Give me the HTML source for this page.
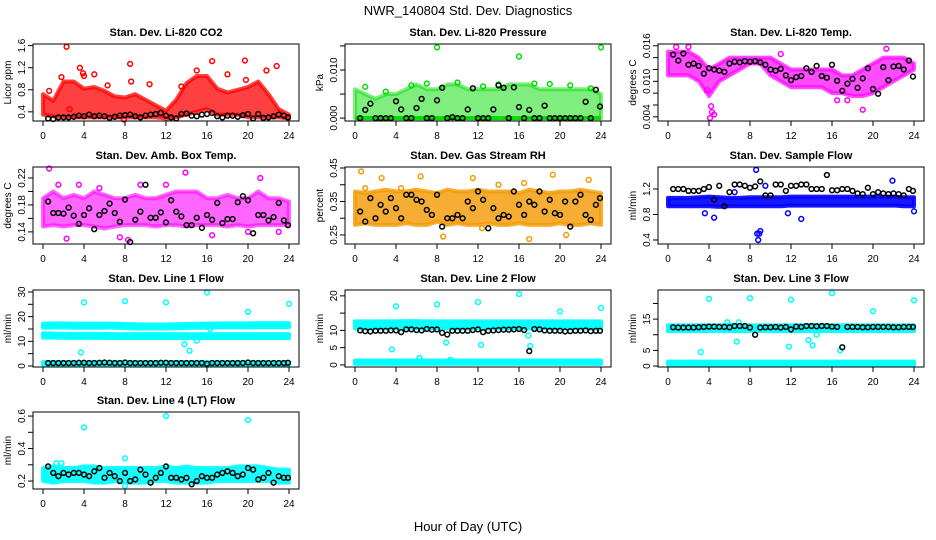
<!DOCTYPE html>
<html><head><meta charset="utf-8">
<style>
html,body{margin:0;padding:0;background:#fff;}
svg{display:block;font-family:"Liberation Sans",Arial,sans-serif;}
</style></head>
<body>
<svg id="chart" width="936" height="540" viewBox="0 0 936 540" xmlns="http://www.w3.org/2000/svg">
<text x="468" y="15" text-anchor="middle" font-size="13">NWR_140804  Std. Dev. Diagnostics</text>
<text x="468" y="531" text-anchor="middle" font-size="13">Hour of Day (UTC)</text>
</svg>
<script>
const bandHours=[0,1,2,3,4,5,6,7,8,9,10,11,12,13,14,15,16,17,18,19,20,21,22,23,24];
const blackTimes=[0.5,1,1.5,2,2.5,3,3.5,4,4.5,5,5.5,6,6.5,7,7.5,8,8.5,9,9.5,10,10.5,11,11.5,12,12.5,13,13.5,14,14.5,15,15.5,16,16.5,17,17.5,18,18.5,19,19.5,20,20.5,21,21.5,22,22.5,23,23.5,23.9];
const xTicks=[0,4,8,12,16,20,24];

// CO2
const co2Lo=[0.35,0.32,0.3,0.3,0.3,0.3,0.3,0.3,0.3,0.3,0.3,0.3,0.28,0.3,0.35,0.4,0.45,0.35,0.35,0.35,0.3,0.3,0.3,0.3,0.28];
const co2Hi=[0.72,0.6,0.95,0.95,0.82,0.85,0.78,0.68,0.66,0.72,0.62,0.52,0.42,0.62,0.92,1.05,1.05,0.82,0.75,0.8,0.85,0.95,0.72,0.45,0.35];
const co2OutX=[2.3,3.6,3.9,4,5,8.5,8.6,10.4,16.5,19.7,19.8,22.8,21.8,18,1.8,2.6,7.9,6.3,13.5,15,0.6];
const co2OutY=[1.58,1.2,1.1,1.05,1.08,1.27,0.95,0.9,1.32,1.33,0.98,1.23,1.15,1.08,1.03,0.45,0.26,0.88,0.86,1.15,0.78];
const co2Black=[0.28,0.27,0.3,0.3,0.3,0.31,0.33,0.32,0.35,0.32,0.33,0.32,0.29,0.31,0.33,0.34,0.35,0.32,0.3,0.33,0.35,0.36,0.38,0.33,0.3,0.28,0.36,0.37,0.33,0.32,0.35,0.36,0.38,0.32,0.3,0.33,0.33,0.31,0.34,0.36,0.28,0.36,0.29,0.3,0.32,0.35,0.33,0.3];
// Pressure
const prLo=[0,0,0,0,0,0,0,0,0,0,0,0,0,0,0,0,0,0,0,0,0,0,0,0,0];
const prHi=[0.006,0.005,0.004,0.005,0.005,0.006,0.007,0.006,0.006,0.007,0.007,0.006,0.006,0.006,0.006,0.007,0.007,0.007,0.006,0.006,0.006,0.006,0.006,0.006,0.005];
const prOutX=[8,16,24,1,3,5.5,7,10,12.5,14,17.5,19,21,23];
const prOutY=[0.0147,0.0128,0.0147,0.0065,0.0055,0.0068,0.0072,0.0074,0.0066,0.007,0.0072,0.0071,0.0068,0.0062];
const prBlack=[0,0.0017,0.003,0,0,0,0,0.0035,0.0018,0,0,0.0021,0.004,0,0,0.0037,0.0063,0,0.0002,0,0,0.0018,0.0062,0,0,0,0.0018,0.0068,0.0063,0,0.0064,0.0023,0,0.0017,0,0,0.0026,0,0,0,0,0,0,0,0.0034,0,0.0059,0.0024];
// Li-820 temp
const tLo=[0.011,0.011,0.011,0.010,0.0075,0.010,0.011,0.012,0.013,0.013,0.011,0.010,0.009,0.009,0.009,0.009,0.008,0.008,0.0075,0.0075,0.008,0.009,0.010,0.011,0.012];
const tHi=[0.015,0.015,0.015,0.014,0.012,0.013,0.014,0.014,0.014,0.014,0.014,0.013,0.012,0.012,0.012,0.012,0.012,0.011,0.011,0.012,0.013,0.014,0.014,0.014,0.013];
const tOutX=[4.2,4.3,4.5,4.1,19,16.5,0.8,2,21.3,11,3.8,17.5];
const tOutY=[0.0058,0.0048,0.0044,0.0038,0.0052,0.0068,0.0158,0.0158,0.0155,0.0146,0.0085,0.0068];
const tBlack=[0.0145,0.0135,0.0147,0.0128,0.013,0.0126,0.0113,0.0122,0.012,0.0118,0.0116,0.013,0.0133,0.0132,0.0134,0.0133,0.0134,0.0132,0.0128,0.012,0.0118,0.0121,0.011,0.0102,0.0107,0.0109,0.0122,0.0116,0.0126,0.0109,0.0106,0.0128,0.0101,0.0084,0.0096,0.0104,0.0089,0.0105,0.0122,0.0087,0.0079,0.0124,0.0102,0.0125,0.0126,0.012,0.0135,0.0108];
// Box temp
const bxLo=[0.148,0.15,0.148,0.15,0.15,0.148,0.145,0.148,0.15,0.15,0.15,0.148,0.15,0.15,0.148,0.15,0.15,0.15,0.148,0.15,0.148,0.15,0.15,0.15,0.15];
const bxHi=[0.19,0.2,0.19,0.195,0.19,0.2,0.195,0.19,0.19,0.195,0.19,0.19,0.195,0.2,0.2,0.2,0.19,0.19,0.195,0.19,0.19,0.2,0.19,0.19,0.185];
const bxOutX=[0.6,2.3,8.3,13.9,21.2,3.5,1.5,5.5,9.5,16.5,20,23,12,7.5];
const bxOutY=[0.234,0.13,0.128,0.228,0.22,0.21,0.21,0.205,0.21,0.135,0.14,0.14,0.21,0.132];
const bxBlack=[0.185,0.168,0.168,0.167,0.176,0.164,0.152,0.165,0.175,0.144,0.165,0.171,0.182,0.168,0.155,0.188,0.125,0.158,0.17,0.21,0.161,0.161,0.169,0.154,0.187,0.17,0.163,0.15,0.15,0.161,0.146,0.165,0.158,0.183,0.153,0.159,0.159,0.184,0.193,0.187,0.138,0.165,0.165,0.157,0.162,0.183,0.157,0.15];
// RH
const rhLo=[0.28,0.285,0.28,0.28,0.28,0.285,0.28,0.28,0.29,0.28,0.285,0.28,0.28,0.285,0.28,0.28,0.285,0.28,0.28,0.28,0.285,0.28,0.28,0.285,0.28];
const rhHi=[0.38,0.375,0.38,0.385,0.38,0.38,0.385,0.38,0.375,0.385,0.38,0.38,0.385,0.38,0.38,0.38,0.375,0.385,0.38,0.375,0.38,0.38,0.385,0.38,0.375];
const rhOutX=[0.6,2.6,6.4,8.6,11.5,12.4,17,19.3,20.6,22.8,1,4.5,14,16.5];
const rhOutY=[0.44,0.42,0.425,0.245,0.42,0.27,0.238,0.43,0.25,0.415,0.39,0.39,0.4,0.405];
const rhBlack=[0.32,0.29,0.36,0.3,0.34,0.32,0.36,0.33,0.3,0.37,0.37,0.355,0.35,0.325,0.31,0.37,0.275,0.3,0.3,0.31,0.3,0.35,0.33,0.38,0.355,0.27,0.33,0.3,0.31,0.305,0.38,0.34,0.31,0.35,0.34,0.38,0.32,0.355,0.315,0.31,0.35,0.275,0.35,0.37,0.31,0.295,0.34,0.36];
// Sample flow
const sfLo=[0.93,0.93,0.93,0.93,0.93,0.92,0.93,0.93,0.93,0.93,0.93,0.93,0.94,0.94,0.94,0.94,0.94,0.94,0.94,0.94,0.94,0.94,0.94,0.93,0.93];
const sfHi=[1.06,1.06,1.06,1.07,1.08,1.07,1.06,1.06,1.07,1.07,1.07,1.07,1.08,1.08,1.08,1.08,1.08,1.08,1.08,1.08,1.08,1.08,1.08,1.07,1.07];
const sfOutX=[8.6,8.7,8.9,9,8.8,3.6,4.5,13,11.7,21.9,24,9.5,6.5];
const sfOutY=[1.5,0.5,0.5,0.54,0.4,0.82,0.75,0.73,0.82,1.33,0.85,1.25,1.15];
const sfBlack=[1.2,1.2,1.2,1.17,1.17,1.17,1.2,1.23,1.03,1.25,0.93,1.15,1.27,1.27,1.25,1.22,1.24,1.32,1.1,1.1,1.27,1.27,1.17,1.25,1.25,1.27,1.27,1.2,1.2,1.2,1.42,1.18,1.18,1.2,1.2,1.17,1.13,1.12,1.22,1.12,1.15,1.13,1.12,1.13,1.12,1.1,1.2,1.17];
// Line 1
const l1LoA=[15.5,15.6,15.6,15.5,15.5,15.5,15.5,15.5,15.4,15.2,15.2,15.2,15.2,15.3,15.4,15.5,15.5,15.6,15.6,15.6,15.6,15.7,15.7,15.7,15.7];
const l1HiA=[17.2,17.3,17.3,17.2,17.2,17.2,17.2,17.2,17,16.9,16.8,16.8,16.8,16.9,17,17.1,17.2,17.3,17.3,17.3,17.3,17.4,17.4,17.4,17.4];
const l1LoB=[11.5,11.5,11.4,11.4,11.4,11.4,11.4,11.3,11.3,11.3,11.3,11.3,11.3,11.3,11.3,11.3,11.3,11.3,11.3,11.3,11.3,11.3,11.3,11.3,11.3];
const l1HiB=[13.2,13.2,13,13,13,13,13,12.9,12.9,12.9,12.9,12.9,12.9,12.9,12.9,12.9,12.9,12.9,12.9,12.9,12.9,12.9,12.9,12.9,12.9];
const l1LoC=[0.6,0.6,0.6,0.6,0.6,0.6,0.6,0.6,0.6,0.6,0.6,0.6,0.6,0.6,0.6,0.6,0.6,0.6,0.6,0.6,0.6,0.6,0.6,0.6,0.6];
const l1HiC=[1.6,1.6,1.6,1.6,1.6,1.6,1.6,1.6,1.6,1.6,1.6,1.6,1.6,1.6,1.6,1.6,1.6,1.6,1.6,1.6,1.6,1.6,1.6,1.6,1.6];
const l1OutX=[4,8,12,16,20,24,3.7,13.8,14.3,15,16.3];
const l1OutY=[25.8,26.3,25.8,29.8,22,25.2,5.5,8.8,6.2,10.3,15];
const l1Black=[1.2,1.2,1.2,1.2,1.2,1.2,1.3,1.3,1.2,1.2,1.3,1.4,1.3,1.2,1.2,1.4,1.2,1.2,1.2,1.2,1.2,1.2,1.3,1.3,1.2,1.2,1.2,1.2,1.2,1.2,1.2,0.9,1.2,1.2,1.2,1.2,1.2,1.2,1.2,1.4,1.2,1.2,1.2,1.2,1.2,1.2,1.2,1.3];
// Line 2
const l2LoA=[10.6,10.6,10.6,10.6,10.6,10.6,10.6,10.6,10.6,10.6,10.6,10.6,10.6,10.6,10.6,10.6,10.6,10.6,10.6,10.6,10.6,10.6,10.6,10.6,10.6];
const l2HiA=[12.6,12.6,12.6,12.6,12.6,12.7,12.7,12.6,12.6,12.6,12.6,12.6,12.6,12.6,12.6,12.6,12.6,12.6,12.6,12.6,12.6,12.6,12.6,12.6,12.6];
const l2LoC=[0.3,0.3,0.3,0.3,0.3,0.3,0.3,0.3,0.3,0.3,0.3,0.3,0.3,0.3,0.3,0.3,0.3,0.3,0.3,0.3,0.3,0.3,0.3,0.3,0.3];
const l2HiC=[1.3,1.3,1.3,1.3,1.3,1.3,1.3,1.3,1.3,1.3,1.3,1.3,1.3,1.3,1.3,1.3,1.3,1.3,1.3,1.3,1.3,1.3,1.3,1.3,1.3];
const l2OutX=[4,8,12,16,20,24,3.6,8.9,12.3,17.1,6.3,9.3,16.9];
const l2OutY=[17,17.5,18.2,20.5,15.5,16.5,4.5,6.5,5.8,5.5,2,1.5,8.5];
const l2Black=[10,9.8,9.7,9.9,9.9,9.9,10,10,9.5,10.3,10.3,10.1,10,10.4,10.2,10.3,9.3,8.8,9.9,9.9,9.9,9.9,10.1,10.3,9.5,9.9,10,10.1,10.2,10.2,10.3,10.4,10.1,4,10.4,10.3,10,9.9,9.9,9.9,9.7,9.8,9.9,9.9,10,9.8,9.9,9.9];
// Line 3
const l3LoA=[11.2,11.2,11.2,11.2,11.2,11.2,11.2,11.2,11.2,11.2,11.2,11.2,11.2,11.2,11.2,11.2,11.2,11.2,11.2,11.2,11.2,11.2,11.2,11.2,11.2];
const l3HiA=[13,13,13,13,13,13,13.2,13,13,13,13,13,13,13,13.1,13,13,13,13,13,13,13,13,13,13];
const l3LoC=[0.4,0.4,0.4,0.4,0.4,0.4,0.4,0.4,0.4,0.4,0.4,0.4,0.4,0.4,0.4,0.4,0.4,0.4,0.4,0.4,0.4,0.4,0.4,0.4,0.4];
const l3HiC=[1.4,1.4,1.4,1.4,1.4,1.4,1.4,1.4,1.4,1.4,1.4,1.4,1.4,1.4,1.4,1.4,1.4,1.4,1.4,1.4,1.4,1.4,1.4,1.4,1.4];
const l3OutX=[4,8,12,16,20,24,3.2,6.7,6.9,11.8,13.7,14.1,16.8,5.8,14.5];
const l3OutY=[21.5,21.7,21.2,23.3,17.5,21,4.5,7.8,14,6.2,8.3,6.6,5,14,10];
const l3Black=[12.4,12.3,12.3,12.3,12.3,12.4,12.5,12.6,12.6,12.5,12.5,12.4,12.8,12.8,12.8,12.3,10,12.3,12.4,12.4,12.5,12.3,12.5,11.7,12.6,12.5,12.8,12.8,12.7,12.8,12.8,12.6,12.5,6,12.5,12.5,12.5,12.4,12.4,12.5,12.5,12.5,12.5,12.4,12.4,12.5,12.5,12.5];
// Line 4
const l4Lo=[0.2,0.19,0.2,0.2,0.2,0.19,0.19,0.2,0.19,0.19,0.19,0.2,0.2,0.19,0.19,0.19,0.19,0.2,0.2,0.2,0.2,0.2,0.2,0.19,0.19];
const l4Hi=[0.28,0.29,0.28,0.28,0.29,0.29,0.28,0.28,0.28,0.28,0.28,0.28,0.29,0.28,0.29,0.28,0.28,0.28,0.28,0.29,0.29,0.29,0.28,0.27,0.27];
const l4OutX=[4,12,20,8,1.3,1.8,0.2,8];
const l4OutY=[0.53,0.6,0.575,0.34,0.31,0.31,0.23,0.17];
const l4Black=[0.29,0.25,0.23,0.25,0.24,0.25,0.25,0.24,0.23,0.26,0.28,0.22,0.25,0.23,0.2,0.25,0.2,0.21,0.27,0.24,0.19,0.22,0.25,0.29,0.22,0.22,0.21,0.22,0.18,0.2,0.23,0.22,0.22,0.24,0.25,0.26,0.25,0.23,0.24,0.28,0.27,0.21,0.22,0.25,0.19,0.23,0.22,0.22];

const NS="http://www.w3.org/2000/svg";
const svg=document.getElementById('chart');
const colX0=[43,355,668], rowTop=[44,167,290,412], PXH=10.25, BH=77;
function mk(tag,attrs,parent){const e=document.createElementNS(NS,tag);for(const k in attrs)e.setAttribute(k,attrs[k]);(parent||svg).appendChild(e);return e;}

const panels=[
 {c:0,r:0,title:"Stan. Dev. Li-820 CO2",yl:"Licor ppm",dom:[0.234,1.63],ticks:[0.4,0.8,1.2,1.6],labs:["0.4","0.8","1.2","1.6"],col:"#ff0000",op:0.75,bands:[[co2Lo,co2Hi]],ox:co2OutX,oy:co2OutY,blk:co2Black},
 {c:1,r:0,title:"Stan. Dev. Li-820 Pressure",yl:"kPa",dom:[-0.0006,0.0154],ticks:[0,0.005,0.01,0.015],labs:["0.000","","0.010",""],col:"#00dd00",op:0.5,bands:[[prLo,prHi]],ox:prOutX,oy:prOutY,blk:prBlack,line0:true},
 {c:2,r:0,title:"Stan. Dev. Li-820 Temp.",yl:"degrees C",dom:[0.0033,0.0163],ticks:[0.004,0.006,0.008,0.01,0.012,0.014,0.016],labs:["0.004","","","0.010","","","0.016"],col:"#ff00ff",op:0.7,bands:[[tLo,tHi]],ox:tOutX,oy:tOutY,blk:tBlack},
 {c:0,r:1,title:"Stan. Dev. Amb. Box Temp.",yl:"degrees C",dom:[0.122,0.2363],ticks:[0.14,0.16,0.18,0.2,0.22],labs:["0.14","","0.18","","0.22"],col:"#ff00ff",op:0.6,bands:[[bxLo,bxHi]],ox:bxOutX,oy:bxOutY,blk:bxBlack},
 {c:1,r:1,title:"Stan. Dev. Gas Stream RH",yl:"percent",dom:[0.223,0.453],ticks:[0.25,0.3,0.35,0.4,0.45],labs:["0.25","","0.35","","0.45"],col:"#f39a00",op:0.8,bands:[[rhLo,rhHi]],ox:rhOutX,oy:rhOutY,blk:rhBlack},
 {c:2,r:1,title:"Stan. Dev. Sample Flow",yl:"ml/min",dom:[0.337,1.545],ticks:[0.4,0.8,1.2],labs:["0.4","0.8","1.2"],col:"#0000ff",op:0.9,bands:[[sfLo,sfHi]],ox:sfOutX,oy:sfOutY,blk:sfBlack},
 {c:0,r:2,title:"Stan. Dev. Line 1 Flow",yl:"ml/min",dom:[-0.4,30.8],ticks:[0,5,10,15,20,25,30],labs:["0","","10","","20","","30"],col:"#00ffff",op:0.95,bands:[[l1LoA,l1HiA],[l1LoB,l1HiB],[l1LoC,l1HiC]],ox:l1OutX,oy:l1OutY,blk:l1Black},
 {c:1,r:2,title:"Stan. Dev. Line 2 Flow",yl:"ml/min",dom:[-0.6,21.7],ticks:[0,5,10,15,20],labs:["0","5","10","","20"],col:"#00ffff",op:0.95,bands:[[l2LoA,l2HiA],[l2LoC,l2HiC]],ox:l2OutX,oy:l2OutY,blk:l2Black},
 {c:2,r:2,title:"Stan. Dev. Line 3 Flow",yl:"ml/min",dom:[-0.3,24.3],ticks:[0,5,10,15,20],labs:["0","5","","15",""],col:"#00ffff",op:0.95,bands:[[l3LoA,l3HiA],[l3LoC,l3HiC]],ox:l3OutX,oy:l3OutY,blk:l3Black},
 {c:0,r:3,title:"Stan. Dev. Line 4 (LT) Flow",yl:"ml/min",dom:[0.151,0.625],ticks:[0.2,0.3,0.4,0.5,0.6],labs:["0.2","","0.4","","0.6"],col:"#00ffff",op:0.9,bands:[[l4Lo,l4Hi]],ox:l4OutX,oy:l4OutY,blk:l4Black}
];

panels.forEach((p,i)=>{
 const x0=colX0[p.c], top=rowTop[p.r], bot=top+BH, left=x0-10, right=x0+256;
 const X=h=>x0+h*PXH;
 const Y=v=>bot-(v-p.dom[0])/(p.dom[1]-p.dom[0])*BH;
 const g=mk('g',{});
 
 
 const t=mk('text',{x:(left+right)/2,y:top-8,'text-anchor':'middle','font-size':11,'font-weight':'bold'},g);
 t.textContent=p.title;
 
 
 const cg=mk('g',{'clip-path':'none'},g);
 p.bands.forEach(b=>{
  let pts=bandHours.map((h,k)=>X(h)+','+Y(b[1][k]));
  pts=pts.concat(bandHours.slice().reverse().map((h,k)=>X(h)+','+Y(b[0][bandHours.length-1-k])));
  const poly=mk('polygon',{points:pts.join(' '),fill:p.col,'fill-opacity':p.op,stroke:p.col,'stroke-width':4,'stroke-opacity':p.op,'stroke-linejoin':'round'},cg);
  
  
 });
 if(p.line0){const l=mk('line',{x1:X(0),x2:X(24),y1:Y(0),y2:Y(0),stroke:p.col,'stroke-width':4},cg);
  
  }
 p.ox.forEach((xv,k)=>{
  const c=mk('circle',{cx:X(xv),cy:Y(p.oy[k]),r:2.4,fill:'none',stroke:p.col,'stroke-width':1.5},cg);
  
  
 });
 const n=Math.min(blackTimes.length,p.blk.length);
 for(let k=0;k<n;k++){
  const c=mk('circle',{cx:X(blackTimes[k]),cy:Y(p.blk[k]),r:2.4,fill:'none',stroke:'#000','stroke-width':1.5},cg);
  
  
 }
 const box=mk('rect',{x:left,y:top,width:right-left,height:BH,fill:'none',stroke:'#000','stroke-width':1},g);
 
 
 mk('line',{x1:X(0),x2:X(24),y1:bot,y2:bot,stroke:'#000'},g);
 xTicks.forEach(h=>{
  mk('line',{x1:X(h),x2:X(h),y1:bot,y2:bot+5,stroke:'#000'},g);
  const tl=mk('text',{x:X(h),y:bot+18,'text-anchor':'middle','font-size':10},g);
  tl.textContent=h;
  
  
 });
 p.ticks.forEach((v,k)=>{
  const yy=Y(v);
  mk('line',{x1:left-5,x2:left,y1:yy,y2:yy,stroke:'#000'},g);
  if(p.labs[k]){
   const tl=mk('text',{x:left-8,y:yy,'text-anchor':'middle','font-size':10,transform:`rotate(-90 ${left-8} ${yy})`},g);
   tl.textContent=p.labs[k];
   
   
  }
 });
 const yl=mk('text',{x:left-22,y:(top+bot)/2,'text-anchor':'middle','font-size':10,transform:`rotate(-90 ${left-22} ${(top+bot)/2})`},g);
 yl.textContent=p.yl;
 
 
});
</script>
</body></html>
